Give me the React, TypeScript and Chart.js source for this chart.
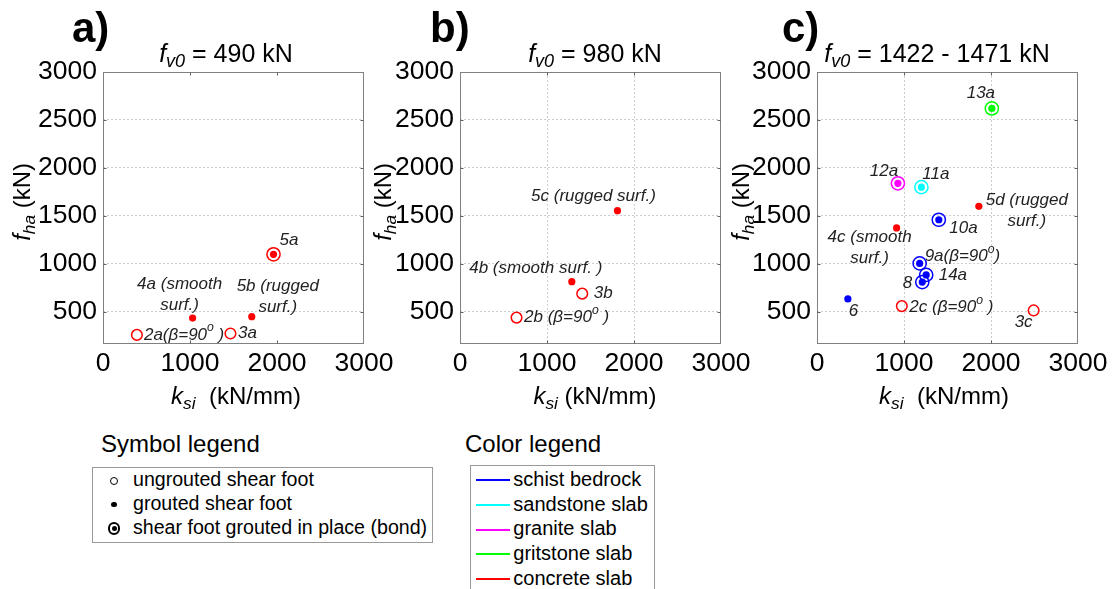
import React, { useEffect, useRef } from "react";
import { Chart, registerables } from "chart.js";

Chart.register(...registerables);

const FONT = "'Liberation Sans', Arial, Helvetica, sans-serif";

// shared axes
const K_MIN = 0;
const K_MAX = 3000;
const F_MIN = 165;
const F_MAX = 3000;
const K_TICKS = [0, 1000, 2000, 3000];
const F_TICKS = [500, 1000, 1500, 2000, 2500, 3000];

// a) f_v0 = 490 kN
const A_KSI = [390, 1465, 1030, 1710, 1960];
const A_FHA = [260, 275, 435, 450, 1100];
const A_SLAB = ["concrete", "concrete", "concrete", "concrete", "concrete"];
const A_FOOT = ["ungrouted", "ungrouted", "grouted", "grouted", "bonded"];
const A_LABELS = ["2a(\u03b2=90^o )", "3a", "4a (smooth\nsurf.)", "5b (rugged\nsurf.)", "5a"];

// b) f_v0 = 980 kN
const B_KSI = [650, 1405, 1285, 1810];
const B_FHA = [440, 690, 815, 1555];
const B_SLAB = ["concrete", "concrete", "concrete", "concrete"];
const B_FOOT = ["ungrouted", "ungrouted", "grouted", "grouted"];
const B_LABELS = ["2b (\u03b2=90^o )", "3b", "4b (smooth surf. )", "5c (rugged surf.)"];

// c) f_v0 = 1422 - 1471 kN
const C_KSI = [2010, 930, 1200, 1400, 1860, 915, 1180, 1255, 1210, 355, 975, 2490];
const C_FHA = [2620, 1840, 1800, 1460, 1600, 1375, 1005, 885, 810, 635, 560, 515];
const C_SLAB = [
  "gritstone", "granite", "sandstone", "schist", "concrete", "concrete",
  "schist", "schist", "schist", "schist", "concrete", "concrete",
];
const C_FOOT = [
  "bonded", "bonded", "bonded", "bonded", "grouted", "grouted",
  "bonded", "bonded", "bonded", "grouted", "ungrouted", "ungrouted",
];
const C_LABELS = [
  "13a", "12a", "11a", "10a", "5d (rugged\nsurf.)", "4c (smooth\nsurf.)",
  "9a(\u03b2=90^o)", "14a", "8", "6", "2c (\u03b2=90^o )", "3c",
];

const PANEL_LETTERS = ["a)", "b)", "c)"];
const PANEL_TITLES = [
  "\\itf_{v0}\\rm = 490 kN",
  "\\itf_{v0}\\rm = 980 kN",
  "\\itf_{v0}\\rm = 1422 - 1471 kN",
];
const X_TITLES = ["\\itk_{si}\\rm  (kN/mm)", "\\itk_{si}\\rm (kN/mm)", "\\itk_{si}\\rm  (kN/mm)"];
const Y_TITLE = "\\itf_{ha}\\rm (kN)";

const SLAB_COLORS: Record<string, string> = {
  schist: "#0000ff",
  sandstone: "#00ffff",
  granite: "#ff00ff",
  gritstone: "#00ff00",
  concrete: "#ff0000",
};

const SYMBOL_ITEMS = ["ungrouted shear foot", "grouted shear foot", "shear foot grouted in place (bond)"];
const COLOR_ITEMS = ["schist bedrock", "sandstone slab", "granite slab", "gritstone slab", "concrete slab"];
const COLOR_ITEM_KEYS = ["schist", "sandstone", "granite", "gritstone", "concrete"];

// label placement: [dx, dy, align] relative to the marker, in px
type Place = [number, number, CanvasTextAlign];
const A_LABEL_AT: Place[] = [[7, 0, "left"], [7.5, 0, "left"], [-13, -34, "center"], [26, -30, "center"], [6, -14, "left"]];
const B_LABEL_AT: Place[] = [[7.5, 0, "left"], [11.5, 0, "left"], [-36, -13.5, "center"], [-24, -14, "center"]];
const C_LABEL_AT: Place[] = [
  [-11, -15, "center"], [-14, -12.5, "center"], [14.5, -13, "center"], [10.5, 9, "left"],
  [48, -6, "center"], [-27, 9.5, "center"], [5, -7.5, "left"], [12.5, 0, "left"],
  [-10, 1, "right"], [5.5, 12, "center"], [7.5, 1, "left"], [-10, 12, "center"],
];

type Panel = {
  ksi: number[];
  fha: number[];
  slab: string[];
  foot: string[];
  labels: string[];
  labelAt: Place[];
  letter: string;
  title: string;
  xTitle: string;
  vGrid: boolean;
  // layout (page px)
  canvasLeft: number;
  canvasWidth: number;
  plotL: number;
  plotR: number;
  letterX: number;
  titleCx: number;
  xTitleCx: number;
  yTitleX: number;
};

const PLOT_T = 72;
const PLOT_B = 344;
const CANVAS_H = 420;
const Y_AXIS_W = 70;
const X_AXIS_H = 45;

const PANELS: Panel[] = [
  {
    ksi: A_KSI, fha: A_FHA, slab: A_SLAB, foot: A_FOOT, labels: A_LABELS, labelAt: A_LABEL_AT,
    letter: PANEL_LETTERS[0], title: PANEL_TITLES[0], xTitle: X_TITLES[0], vGrid: false,
    canvasLeft: 0, canvasWidth: 400, plotL: 103, plotR: 364,
    letterX: 72, titleCx: 226, xTitleCx: 236, yTitleX: 30,
  },
  {
    ksi: B_KSI, fha: B_FHA, slab: B_SLAB, foot: B_FOOT, labels: B_LABELS, labelAt: B_LABEL_AT,
    letter: PANEL_LETTERS[1], title: PANEL_TITLES[1], xTitle: X_TITLES[1], vGrid: true,
    canvasLeft: 360, canvasWidth: 400, plotL: 460, plotR: 721,
    letterX: 430, titleCx: 595, xTitleCx: 595, yTitleX: 391,
  },
  {
    ksi: C_KSI, fha: C_FHA, slab: C_SLAB, foot: C_FOOT, labels: C_LABELS, labelAt: C_LABEL_AT,
    letter: PANEL_LETTERS[2], title: PANEL_TITLES[2], xTitle: X_TITLES[2], vGrid: true,
    canvasLeft: 725, canvasWidth: 390, plotL: 817, plotR: 1078,
    letterX: 782, titleCx: 937, xTitleCx: 944, yTitleX: 749,
  },
];

// --- small TeX-like rich text: \it, \rm, _{..}, ^{..}
type Run = { text: string; italic: boolean; shift: number };
function parseRich(src: string, italicStart: boolean): Run[] {
  const runs: Run[] = [];
  let italic = italicStart;
  let buf = "";
  const push = (t: string, shift: number) => {
    if (t) runs.push({ text: t, italic, shift });
  };
  for (let i = 0; i < src.length; i++) {
    const c = src[i];
    if (c === "\\") {
      push(buf, 0);
      buf = "";
      italic = src.slice(i + 1, i + 3) === "it";
      i += 2;
      continue;
    }
    if (c === "_" || c === "^") {
      push(buf, 0);
      buf = "";
      let t: string;
      if (src[i + 1] === "{") {
        const j = src.indexOf("}", i);
        t = src.slice(i + 2, j);
        i = j;
      } else {
        t = src[i + 1];
        i += 1;
      }
      push(t, c === "_" ? 1 : -1);
      continue;
    }
    buf += c;
  }
  push(buf, 0);
  return runs;
}

function drawRich(
  ctx: CanvasRenderingContext2D, src: string, x: number, y: number,
  align: CanvasTextAlign, size: number, italicStart: boolean, weight = "",
) {
  const runs = parseRich(src, italicStart);
  const fontOf = (r: Run) =>
    `${r.italic ? "italic " : ""}${weight ? weight + " " : ""}${r.shift ? size * 0.72 : size}px ${FONT}`;
  const widths = runs.map((r) => {
    ctx.font = fontOf(r);
    return ctx.measureText(r.text).width;
  });
  const total = widths.reduce((a, b) => a + b, 0);
  let cx = align === "left" ? x : align === "right" ? x - total : x - total / 2;
  ctx.textAlign = "left";
  runs.forEach((r, i) => {
    ctx.font = fontOf(r);
    const dy = r.shift === 1 ? size * 0.2 : r.shift === -1 ? -size * 0.4 : 0;
    ctx.fillText(r.text, cx, y + dy);
    cx += widths[i];
  });
}

const panelDecor = {
  id: "panelDecor",
  beforeDatasetsDraw(chart: any) {
    const { ctx, chartArea } = chart;
    const xs = chart.scales.x;
    const ys = chart.scales.y;
    ctx.save();
    ctx.strokeStyle = "#808080";
    ctx.lineWidth = 1;
    const l = Math.round(chartArea.left) + 0.5;
    const t = Math.round(chartArea.top) + 0.5;
    const r = Math.round(chartArea.right) - 0.5;
    const b = Math.round(chartArea.bottom) - 0.5;
    ctx.strokeRect(l, t, r - l, b - t);
    // short inward tick marks
    ctx.strokeStyle = "#606060";
    ctx.beginPath();
    K_TICKS.slice(1, -1).forEach((v) => {
      const px = Math.round(xs.getPixelForValue(v)) + 0.5;
      ctx.moveTo(px, b); ctx.lineTo(px, b - 3);
      ctx.moveTo(px, t); ctx.lineTo(px, t + 3);
    });
    F_TICKS.slice(0, -1).forEach((v) => {
      const py = Math.round(ys.getPixelForValue(v)) + 0.5;
      ctx.moveTo(l, py); ctx.lineTo(l + 3, py);
      ctx.moveTo(r, py); ctx.lineTo(r - 3, py);
    });
    ctx.stroke();
    ctx.restore();
  },
  afterDraw(chart: any, _args: any, opts: any) {
    const p: Panel = opts.panel;
    const { ctx } = chart;
    const xs = chart.scales.x;
    const ys = chart.scales.y;
    const off = p.canvasLeft;
    ctx.save();
    ctx.fillStyle = "#000";
    ctx.textBaseline = "alphabetic";
    // panel letter
    drawRich(ctx, p.letter, p.letterX - off, 42, "left", 42, false, "bold");
    // f_v0 heading
    drawRich(ctx, p.title, p.titleCx - off, 62, "center", 25, false);
    // x axis title
    drawRich(ctx, p.xTitle, p.xTitleCx - off, 404, "center", 24, false);
    // y axis title (rotated)
    ctx.save();
    ctx.translate(p.yTitleX - off, 163);
    ctx.rotate(-Math.PI / 2);
    drawRich(ctx, Y_TITLE, 0, 0, "right", 24, false);
    ctx.restore();

    // specimen labels
    ctx.fillStyle = "#222";
    ctx.textBaseline = "middle";
    p.labels.forEach((lab, i) => {
      const px = xs.getPixelForValue(p.ksi[i]);
      const py = ys.getPixelForValue(p.fha[i]);
      const [dx, dy, align] = p.labelAt[i];
      lab.split("\n").forEach((line, j) => {
        drawRich(ctx, line, px + dx, py + dy + j * 21, align, 17, true);
      });
    });
    ctx.restore();
  },
};

function PanelChart({ p }: { p: Panel }) {
  const ref = useRef<HTMLCanvasElement | null>(null);
  useEffect(() => {
    if (!ref.current) return;
    const pts = p.ksi.map((k, i) => ({ x: k, y: p.fha[i] }));
    const cols = p.slab.map((s) => SLAB_COLORS[s]);
    const bondedIdx = p.foot.map((f, i) => (f === "bonded" ? i : -1)).filter((i) => i >= 0);
    const clear = "rgba(0,0,0,0)";
    const gridColor = (c: any) =>
      c.tick && (c.tick.value === c.scale.min || c.tick.value === c.scale.max) ? clear : "#cdcdcd";
    const tickFont = { family: FONT, size: 26.5 };
    const plain = (v: any) => String(v);

    const chart = new Chart(ref.current, {
      type: "scatter",
      data: {
        datasets: [
          {
            data: pts,
            showLine: false,
            pointStyle: "circle",
            pointRadius: p.foot.map((f) => (f === "ungrouted" ? 5.3 : f === "bonded" ? 6.6 : 3.6)),
            pointBorderWidth: p.foot.map((f) => (f === "grouted" ? 0 : 1.5)),
            pointBorderColor: cols,
            pointBackgroundColor: p.foot.map((f, i) => (f === "grouted" ? cols[i] : clear)),
          },
          {
            data: bondedIdx.map((i) => pts[i]),
            showLine: false,
            pointStyle: "circle",
            pointRadius: 3.6,
            pointBorderWidth: 0,
            pointBackgroundColor: bondedIdx.map((i) => cols[i]),
          },
        ],
      },
      options: {
        responsive: false,
        animation: false,
        events: [],
        layout: {
          padding: {
            left: p.plotL - p.canvasLeft - Y_AXIS_W,
            right: p.canvasLeft + p.canvasWidth - p.plotR,
            top: PLOT_T,
            bottom: CANVAS_H - PLOT_B - X_AXIS_H,
          },
        },
        plugins: {
          legend: { display: false },
          tooltip: { enabled: false },
          // @ts-ignore
          panelDecor: { panel: p },
        },
        scales: {
          x: {
            type: "linear",
            min: K_MIN,
            max: K_MAX,
            afterBuildTicks: (s: any) => {
              s.ticks = K_TICKS.map((v) => ({ value: v }));
            },
            afterFit: (s: any) => {
              s.height = X_AXIS_H;
            },
            grid: { display: p.vGrid, color: gridColor, lineWidth: 1, drawTicks: false },
            border: { display: false, dash: [2, 2] },
            ticks: { font: tickFont, color: "#000", padding: 4, maxRotation: 0, autoSkip: false, callback: plain },
          },
          y: {
            type: "linear",
            min: F_MIN,
            max: F_MAX,
            afterBuildTicks: (s: any) => {
              s.ticks = F_TICKS.map((v) => ({ value: v }));
            },
            afterFit: (s: any) => {
              s.width = Y_AXIS_W;
            },
            grid: { display: true, color: gridColor, lineWidth: 1, drawTicks: false },
            border: { display: false, dash: [2, 2] },
            ticks: { font: tickFont, color: "#000", padding: 6, autoSkip: false, callback: plain },
          },
        },
      },
      plugins: [panelDecor as any],
    });
    return () => chart.destroy();
  }, [p]);
  return (
    <canvas
      ref={ref}
      width={p.canvasWidth}
      height={CANVAS_H}
      style={{ position: "absolute", left: p.canvasLeft, top: 0, width: p.canvasWidth, height: CANVAS_H }}
    />
  );
}

// text block positioned by its baseline
function Txt({ x, base, size, children }: { x: number; base: number; size: number; children: React.ReactNode }) {
  return (
    <div
      style={{
        position: "absolute",
        left: x,
        top: base - 0.8465 * size,
        fontSize: size,
        lineHeight: `${size}px`,
        fontFamily: FONT,
        whiteSpace: "nowrap",
        color: "#000",
      }}
    >
      {children}
    </div>
  );
}

function Dot({ cx, cy, d, border, fill }: { cx: number; cy: number; d: number; border: number; fill: string }) {
  return (
    <div
      style={{
        position: "absolute",
        left: cx - d / 2,
        top: cy - d / 2,
        width: d,
        height: d,
        borderRadius: "50%",
        boxSizing: "border-box",
        border: border ? `${border}px solid #000` : "none",
        background: fill,
      }}
    />
  );
}

function Legends() {
  const symBase = [486.7, 510.7, 534.3];
  const symCy = [481, 504.3, 528.3];
  const colBase = [485.7, 510.7, 535.3, 560, 584.8];
  return (
    <>
      <Txt x={101} base={452.7} size={24}>Symbol legend</Txt>
      <div
        style={{
          position: "absolute", left: 91.5, top: 466.5, width: 341, height: 76,
          border: "1px solid #9a9a9a", boxSizing: "border-box",
        }}
      />
      <Dot cx={114} cy={symCy[0]} d={8} border={1.4} fill="transparent" />
      <Dot cx={114} cy={symCy[1]} d={5.5} border={0} fill="#000" />
      <Dot cx={114} cy={symCy[2]} d={12.5} border={2.2} fill="transparent" />
      <Dot cx={114} cy={symCy[2]} d={5} border={0} fill="#000" />
      {SYMBOL_ITEMS.map((s, i) => (
        <Txt key={s} x={133} base={symBase[i]} size={19.6}>{s}</Txt>
      ))}

      <Txt x={465} base={452.3} size={24}>Color legend</Txt>
      <div
        style={{
          position: "absolute", left: 470, top: 465, width: 185, height: 140,
          border: "1px solid #9a9a9a", boxSizing: "border-box",
        }}
      />
      {COLOR_ITEMS.map((s, i) => (
        <React.Fragment key={s}>
          <div
            style={{
              position: "absolute", left: 476, top: colBase[i] - 6.7, width: 33.5, height: 2,
              background: SLAB_COLORS[COLOR_ITEM_KEYS[i]],
            }}
          />
          <Txt x={513.3} base={colBase[i]} size={20}>{s}</Txt>
        </React.Fragment>
      ))}
    </>
  );
}

export default function App() {
  return (
    <div
      style={{
        position: "fixed", left: 0, top: 0, width: 1115, height: 589,
        background: "#fff", overflow: "hidden",
      }}
    >
      {PANELS.map((p) => (
        <PanelChart key={p.letter} p={p} />
      ))}
      <Legends />
    </div>
  );
}
